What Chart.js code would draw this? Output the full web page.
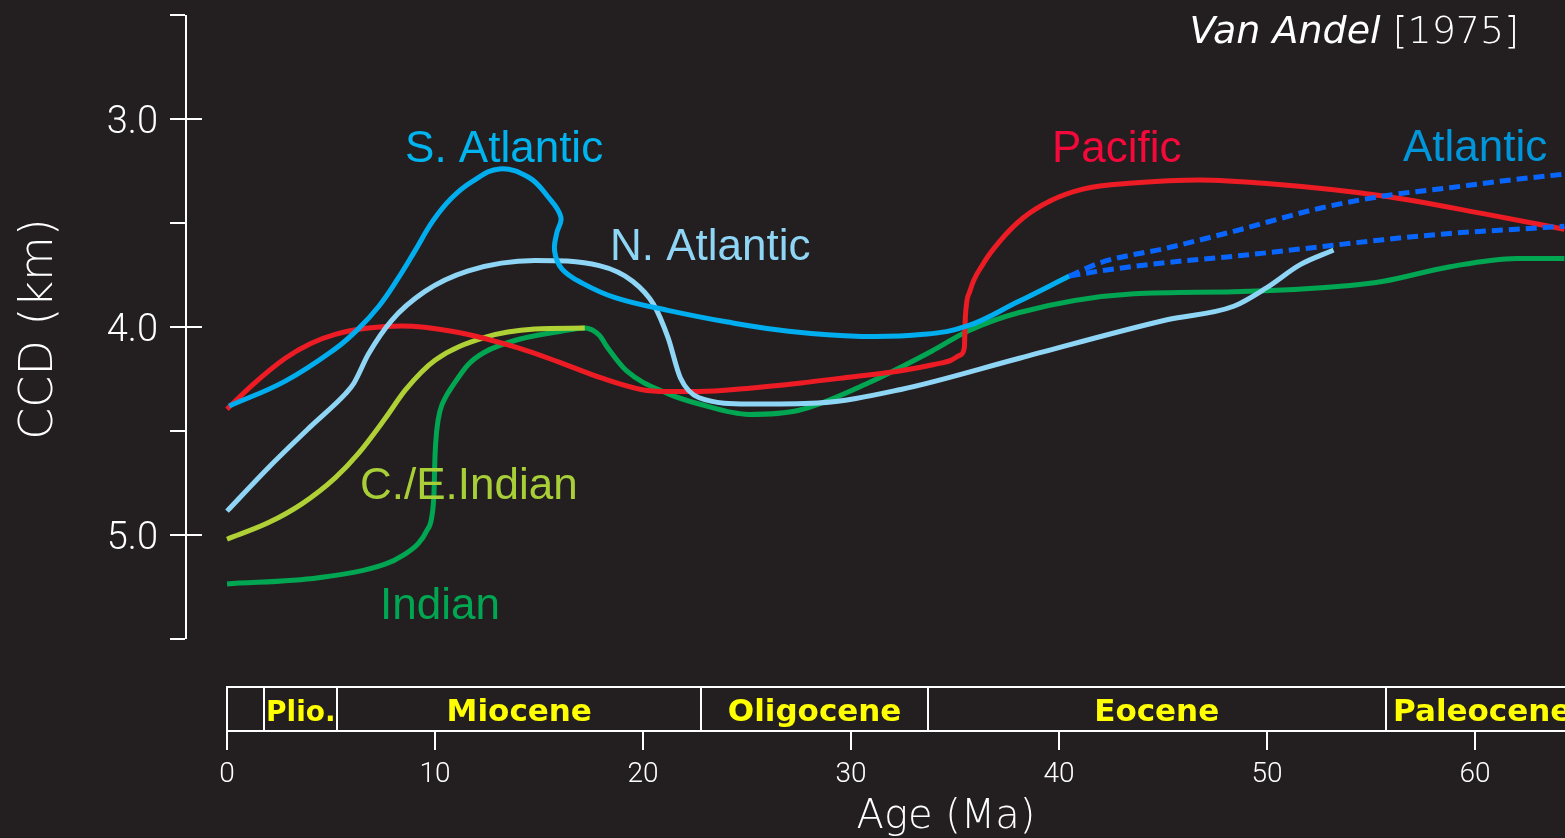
<!DOCTYPE html>
<html>
<head>
<meta charset="utf-8">
<script src="https://cdn.jsdelivr.net/npm/chart.js@4.4.1/dist/chart.umd.min.js"></script>
<style>
  html, body { margin: 0; padding: 0; background: #231f20; }
  canvas { display: block; background: #231f20; }
</style>
</head>
<body>
<canvas id="c" width="1565" height="838"></canvas>
<script>
// ---------------- DATA ----------------
const xTickValues = [0, 10, 20, 30, 40, 50, 60];
const yTickValues = [2.5, 3.0, 3.5, 4.0, 4.5, 5.0, 5.5];
const yMajorTicks = [3.0, 4.0, 5.0];

const sAtlanticAge   = [0.1, 2.8, 5.2, 6.3, 7.3, 8.2, 9.0, 9.9, 10.8, 11.8, 13.1, 14.5, 15.4, 16.05, 15.85, 15.75, 16.1, 17.1, 18.7, 21.2, 24.0, 27.0, 30.5, 33.5, 35.6, 38.0, 40.5];
const sAtlanticDepth = [4.38, 4.26, 4.105, 4.01, 3.90, 3.77, 3.64, 3.49, 3.38, 3.30, 3.24, 3.28, 3.37, 3.47, 3.55, 3.635, 3.72, 3.79, 3.86, 3.92, 3.975, 4.02, 4.045, 4.035, 3.995, 3.88, 3.755];

const nAtlanticAge   = [0, 2.0, 4.0, 5.7, 6.1, 6.8, 7.9, 9.5, 11.6, 14.8, 17.9, 19.5, 20.5, 21.2, 21.8, 22.7, 25.1, 28.4, 32.4, 38.1, 45.2, 48.4, 50.0, 51.6, 53.2];
const nAtlanticDepth = [4.885, 4.675, 4.48, 4.32, 4.27, 4.13, 3.97, 3.83, 3.73, 3.68, 3.705, 3.78, 3.89, 4.05, 4.245, 4.34, 4.37, 4.365, 4.30, 4.15, 3.965, 3.90, 3.81, 3.70, 3.63];

const pacificAge   = [0, 1.2, 2.8, 4.0, 5.2, 6.8, 8.4, 10.8, 14.0, 16.0, 18.0, 19.9, 21.2, 22.7, 25.0, 27.5, 30.0, 32.4, 34.0, 34.8, 35.25, 35.45, 35.5, 35.72, 36.35, 37.16, 38.27, 39.57, 41.15, 43.56, 46.78, 50.0, 55.6, 60.4, 64.3];
const pacificDepth = [4.395, 4.28, 4.15, 4.08, 4.035, 4.005, 3.995, 4.02, 4.10, 4.17, 4.245, 4.30, 4.31, 4.31, 4.295, 4.27, 4.24, 4.21, 4.18, 4.16, 4.135, 4.10, 3.95, 3.827, 3.697, 3.587, 3.476, 3.394, 3.337, 3.308, 3.293, 3.31, 3.37, 3.455, 3.53];

const ceIndianAge   = [0, 2.0, 3.6, 5.2, 6.3, 7.6, 8.6, 10.0, 12.4, 14.8, 17.2];
const ceIndianDepth = [5.02, 4.94, 4.85, 4.725, 4.61, 4.44, 4.30, 4.16, 4.05, 4.01, 4.005];

const indianAge   = [0, 4.4, 7.6, 8.5, 9.2, 9.6, 9.85, 9.95, 10.0, 10.08, 10.25, 10.55, 10.8, 11.6, 12.4, 14.0, 16.4, 17.2, 17.9, 18.3, 19.2, 21.2, 22.7, 25.1, 27.5, 30.8, 33.9, 35.6, 38.1, 43.6, 48.4, 54.0, 55.6, 58.8, 62.0, 64.3];
const indianDepth = [5.235, 5.205, 5.14, 5.095, 5.04, 4.98, 4.91, 4.80, 4.62, 4.50, 4.40, 4.33, 4.29, 4.18, 4.12, 4.06, 4.015, 4.005, 4.04, 4.10, 4.21, 4.32, 4.37, 4.42, 4.40, 4.27, 4.115, 4.02, 3.93, 3.84, 3.83, 3.80, 3.78, 3.71, 3.67, 3.67];

const atlanticUpperAge   = [40.5, 42.0, 45.2, 48.4, 52.5, 55.6, 58.8, 62.0, 64.3];
const atlanticUpperDepth = [3.755, 3.69, 3.62, 3.54, 3.43, 3.37, 3.33, 3.29, 3.265];
const atlanticLowerAge   = [40.5, 42.0, 45.2, 48.4, 52.5, 55.6, 58.8, 62.0, 64.3];
const atlanticLowerDepth = [3.755, 3.73, 3.69, 3.66, 3.615, 3.58, 3.55, 3.53, 3.515];

const epochNames = ['', 'Plio.', 'Miocene', 'Oligocene', 'Eocene', 'Paleocene'];
const epochStart = [0, 1.8, 5.3, 22.8, 33.7, 55.7];
const epochEnd   = [1.8, 5.3, 22.8, 33.7, 55.7, 65.0];

const seriesLabels = ['S. Atlantic', 'N. Atlantic', 'Pacific', 'Atlantic', 'C./E.Indian', 'Indian'];
const seriesLabelAge   = [8.56, 18.41, 39.66, 56.54, 6.39, 7.36];
const seriesLabelDepth = [3.207, 3.678, 3.207, 3.202, 4.827, 5.404];
const seriesLabelColor = ['#00b5ef', '#8fd6f6', '#f5083a', '#0096db', '#a9cf38', '#00a651'];

// ---------------- CHART ----------------
function pts(a, d) { return a.map((v, i) => ({ x: v, y: d[i] })); }

const xMin = -2.02, xMax = 64.33;
const yMin = 2.5, yMax = 5.942;

function lineDs(label, a, d, color, order, dash, monotone) {
  return {
    label, data: pts(a, d), borderColor: color, borderWidth: 5,
    borderDash: dash ? [11, 6] : [], borderCapStyle: 'butt',
    pointRadius: 0, tension: 0.4, fill: false, order,
    cubicInterpolationMode: monotone ? 'monotone' : 'default'
  };
}

const datasets = [
  lineDs('Atlantic upper', atlanticUpperAge, atlanticUpperDepth, '#0866ff', 0, true, true),
  lineDs('Atlantic lower', atlanticLowerAge, atlanticLowerDepth, '#0866ff', 0, true, true),
  lineDs('S. Atlantic', sAtlanticAge, sAtlanticDepth, '#00aeef', 1, false, false),
  lineDs('N. Atlantic', nAtlanticAge, nAtlanticDepth, '#8fd6f6', 2, false, true),
  lineDs('Pacific', pacificAge, pacificDepth, '#ed1c24', 3, false, true),
  lineDs('C./E.Indian', ceIndianAge, ceIndianDepth, '#b0d136', 4, false, true),
  lineDs('Indian', indianAge, indianDepth, '#00a651', 5, false, true)
];

const decor = {
  id: 'decor',
  afterDraw(chart) {
    const { ctx, chartArea: ca, scales: { x, y } } = chart;
    ctx.save();
    ctx.strokeStyle = '#ffffff';
    ctx.lineWidth = 2;
    // y spine + inner major ticks
    const sx = ca.left + 1;
    ctx.beginPath();
    ctx.moveTo(sx, y.getPixelForValue(yTickValues[0]));
    ctx.lineTo(sx, y.getPixelForValue(yTickValues[yTickValues.length - 1]));
    yMajorTicks.forEach(v => {
      const py = Math.round(y.getPixelForValue(v));
      ctx.moveTo(sx, py); ctx.lineTo(sx + 16, py);
    });
    ctx.stroke();

    // epoch boxes
    const boxTop = ca.bottom - 44;
    ctx.beginPath();
    epochStart.forEach((s, i) => {
      const x0 = Math.round(x.getPixelForValue(s));
      const x1 = Math.round(x.getPixelForValue(epochEnd[i]));
      ctx.rect(x0, boxTop, x1 - x0, ca.bottom - boxTop);
    });
    ctx.stroke();
    ctx.fillStyle = '#ffff00';
    ctx.textAlign = 'center';
    ctx.textBaseline = 'alphabetic';
    epochNames.forEach((n, i) => {
      if (!n) return;
      ctx.font = (n.length < 6 ? "bold 28px" : "bold 31px") + " 'DejaVu Sans'";
      const cx = (x.getPixelForValue(epochStart[i]) + x.getPixelForValue(epochEnd[i])) / 2;
      ctx.fillText(n, cx, ca.bottom - 10);
    });

    // series labels
    ctx.font = "44px 'Liberation Sans', Arial, sans-serif";
    ctx.textAlign = 'left';
    seriesLabels.forEach((t, i) => {
      ctx.fillStyle = seriesLabelColor[i];
      ctx.fillText(t, x.getPixelForValue(seriesLabelAge[i]), y.getPixelForValue(seriesLabelDepth[i]));
    });

    // axis titles
    ctx.fillStyle = '#ffffff';
    ctx.font = "200 46px 'DejaVu Sans'";
    ctx.save();
    ctx.translate(52, y.getPixelForValue(4.0) + 2);
    ctx.rotate(-Math.PI / 2);
    ctx.textAlign = 'center';
    ctx.fillText('CCD (km)', 0, 0);
    ctx.restore();

    ctx.font = "200 40px 'DejaVu Sans'";
    ctx.textAlign = 'center';
    ctx.fillText('Age (Ma)', 946, 828);

    // source note
    ctx.font = "200 38px 'DejaVu Sans'";
    ctx.textAlign = 'right';
    const right = 1519, base = 43;
    const tail = ' [1975]';
    ctx.fillText(tail, right, base);
    const w = ctx.measureText(tail).width;
    ctx.font = "italic 200 38px 'DejaVu Sans'";
    ctx.fillText('Van Andel', right - w, base);
    ctx.restore();
  }
};

new Chart(document.getElementById('c'), {
  type: 'line',
  data: { datasets },
  options: {
    responsive: false,
    animation: false,
    devicePixelRatio: 1,
    layout: { padding: { top: 15, left: 0, right: 0, bottom: 0 } },
    plugins: { legend: { display: false }, tooltip: { enabled: false } },
    scales: {
      x: {
        type: 'linear', min: xMin, max: xMax,
        afterBuildTicks: s => { s.ticks = xTickValues.map(v => ({ value: v })); },
        afterFit: s => { s.height = 107; s.paddingLeft = 0; s.paddingRight = 0; },
        grid: { drawOnChartArea: false, drawTicks: true, tickLength: 19, color: '#ffffff', lineWidth: 2 },
        border: { display: false },
        ticks: { color: '#ffffff', padding: 8, maxRotation: 0, autoSkip: false,
                 font: { family: 'Roboto', size: 28, weight: '300' },
                 callback: v => String(v) }
      },
      y: {
        type: 'linear', reverse: true, min: yMin, max: yMax,
        afterBuildTicks: s => { s.ticks = yTickValues.map(v => ({ value: v })); },
        afterFit: s => { s.width = 185; s.paddingTop = 0; s.paddingBottom = 0; },
        grid: { drawOnChartArea: false, drawTicks: true, tickLength: 15, color: '#ffffff', lineWidth: 2 },
        border: { display: false },
        ticks: { color: '#ffffff', padding: 12, autoSkip: false, labelOffset: 4,
                 font: { family: 'Roboto', size: 38, weight: '300' },
                 callback: v => (yMajorTicks.includes(v) ? v.toFixed(1) : '') }
      }
    }
  },
  plugins: [decor]
});
</script>
</body>
</html>
